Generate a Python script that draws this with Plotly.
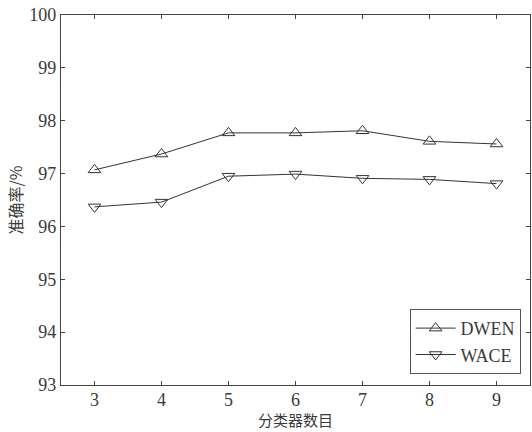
import plotly.graph_objects as go

# number of classifiers in the ensemble
n_classifiers = [3, 4, 5, 6, 7, 8, 9]

# accuracy (%) for each method
dwen_acc = [97.07, 97.37, 97.77, 97.77, 97.81, 97.61, 97.56]
wace_acc = [96.37, 96.46, 96.95, 96.99, 96.91, 96.89, 96.81]

y_ticks = [93, 94, 95, 96, 97, 98, 99, 100]

serif = "Liberation Serif, Times New Roman, serif"
cjk = "Noto Sans CJK SC, sans-serif"
ink = "#333333"

fig = go.Figure()
fig.add_trace(go.Scatter(
    x=n_classifiers, y=dwen_acc, name="DWEN", mode="lines+markers",
    line=dict(color=ink, width=1),
    marker=dict(symbol="triangle-up-open", size=11, color=ink, line=dict(width=1)),
))
fig.add_trace(go.Scatter(
    x=n_classifiers, y=wace_acc, name="WACE", mode="lines+markers",
    line=dict(color=ink, width=1),
    marker=dict(symbol="triangle-down-open", size=11, color=ink, line=dict(width=1)),
))

axis_common = dict(
    showgrid=False, zeroline=False, showline=True, mirror="ticks",
    linecolor="#444444", linewidth=1.2,
    ticks="inside", ticklen=4, tickcolor="#444444",
    tickfont=dict(family=serif, size=18, color="#3a3a3a"),
)

fig.update_layout(
    width=532, height=432,
    margin=dict(l=61, r=2, t=15, b=47),
    paper_bgcolor="white", plot_bgcolor="white",
    showlegend=True,
    legend=dict(
        x=0.98, y=0.03, xanchor="right", yanchor="bottom",
        bordercolor="#555555", borderwidth=1, bgcolor="white",
        font=dict(family=serif, size=18, color="#3a3a3a"),
        itemwidth=40, tracegroupgap=0,
    ),
    xaxis=dict(range=[2.5, 9.5], tickvals=n_classifiers, ticklabelstandoff=-2, **axis_common),
    yaxis=dict(
        range=[93, 100], tickvals=y_ticks,
        title=dict(text="准确率/%", font=dict(family=cjk, size=16, color="#3a3a3a"), standoff=2),
        **axis_common,
    ),
)

# x-axis title sitting at the bottom edge, below the tick labels
fig.add_annotation(
    text="分类器数目", xref="paper", yref="paper", x=0.5, y=-0.127,
    xanchor="center", yanchor="bottom", showarrow=False,
    font=dict(family=cjk, size=15, color="#3a3a3a"),
)

fig.write_html("out.html")
